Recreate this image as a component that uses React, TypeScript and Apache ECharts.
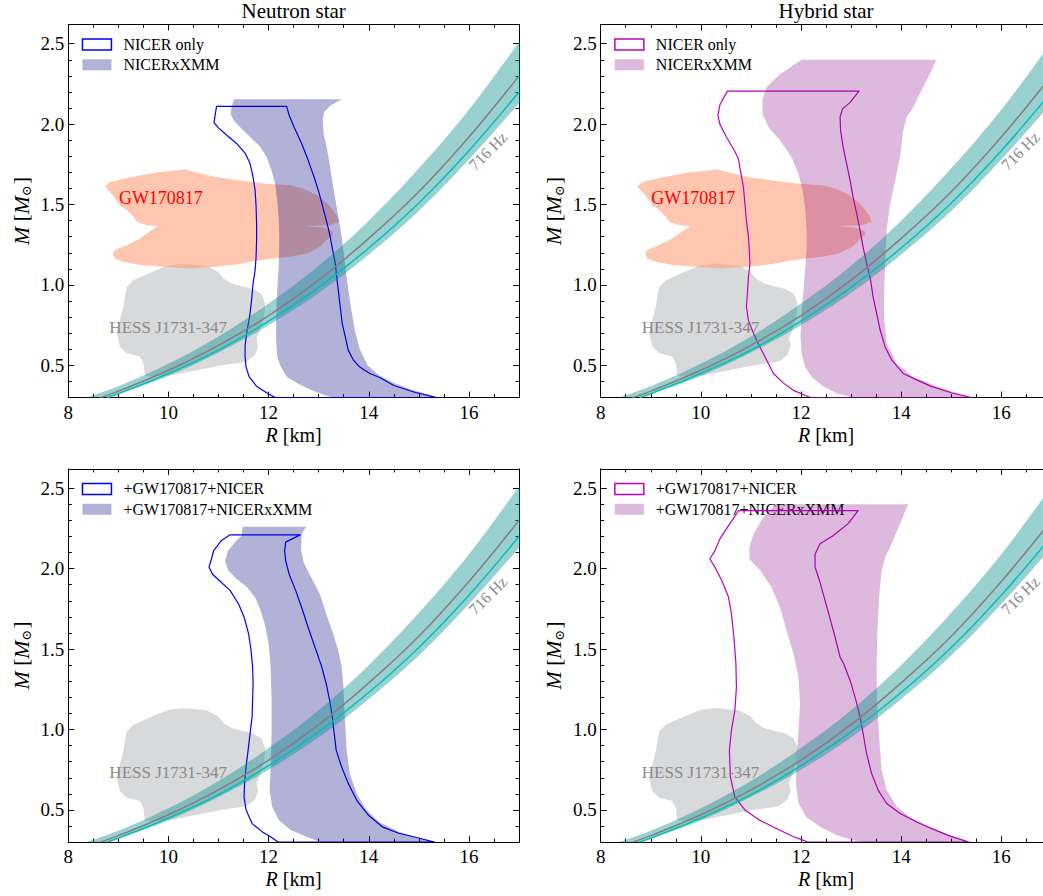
import React, { useEffect, useRef } from "react";
import * as echarts from "echarts";

const FONT = "Liberation Serif";

// ---------- axis ticks ----------
const X_MAJOR = [8, 10, 12, 14, 16];
const X_MINOR = [8.5, 9, 9.5, 10.5, 11, 11.5, 12.5, 13, 13.5, 14.5, 15, 15.5, 16.5];
const Y_MAJOR = [0.5, 1.0, 1.5, 2.0, 2.5];
const Y_MINOR = [0.4, 0.6, 0.7, 0.8, 0.9, 1.1, 1.2, 1.3, 1.4, 1.6, 1.7, 1.8, 1.9, 2.1, 2.2, 2.3, 2.4];

// ---------- observational regions (R [km], M [Msun]) ----------
const GW170817 = [
  [8.73, 1.61], [8.83, 1.64], [9.1, 1.66], [9.43, 1.68], [9.76, 1.70], [10.1, 1.71], [10.33, 1.72],
  [10.56, 1.70], [10.96, 1.67], [11.43, 1.65], [11.96, 1.63], [12.43, 1.62], [12.69, 1.60], [12.96, 1.56],
  [13.16, 1.51], [13.29, 1.465], [13.39, 1.415], [13.41, 1.393], [13.23, 1.372], [12.69, 1.366],
  [13.09, 1.358], [13.26, 1.337], [13.29, 1.316], [13.16, 1.279], [13.03, 1.237], [12.76, 1.196],
  [12.43, 1.175], [12.09, 1.165], [11.76, 1.151], [11.43, 1.13], [10.96, 1.113], [10.43, 1.103],
  [9.9, 1.113], [9.43, 1.124], [9.1, 1.144], [8.93, 1.165], [8.89, 1.196], [8.93, 1.217], [9.17, 1.248],
  [9.43, 1.289], [9.66, 1.341], [9.8, 1.366], [9.57, 1.372], [9.37, 1.393], [9.3, 1.424], [9.17, 1.465],
  [9.03, 1.496], [8.97, 1.527], [8.86, 1.569],
];
const HESS = [
  [10.03, 1.124], [10.3, 1.134], [10.76, 1.12], [10.99, 1.082], [11.1, 1.041], [11.26, 1.01], [11.5, 0.989],
  [11.69, 0.975], [11.86, 0.944], [11.93, 0.886], [11.91, 0.803], [11.83, 0.72], [11.76, 0.669],
  [11.79, 0.617], [11.73, 0.565], [11.56, 0.524], [11.36, 0.513], [11.1, 0.503], [10.76, 0.482],
  [10.43, 0.462], [10.1, 0.441], [9.76, 0.431], [9.53, 0.435], [9.5, 0.513], [9.43, 0.555], [9.17, 0.575],
  [9.03, 0.617], [8.97, 0.70], [9.03, 0.782], [9.1, 0.865], [9.13, 0.927], [9.17, 0.989], [9.3, 1.03],
  [9.53, 1.062], [9.76, 1.093],
];

// ---------- 716 Hz rotation limit ----------
const BAND_UPPER = [[8.2, 0.28], [8.37, 0.30], [9, 0.37], [10, 0.51], [11, 0.68], [12, 0.885], [13, 1.12], [14, 1.40], [15, 1.725], [16, 2.09], [17, 2.51], [17.4, 2.69]];
const BAND_LOWER = [[8.65, 0.28], [8.83, 0.30], [9, 0.32], [10, 0.435], [11, 0.58], [12, 0.75], [13, 0.95], [14, 1.19], [15, 1.46], [16, 1.78], [17, 2.13], [17.4, 2.28]];
const LINE_GRAY = [[8.64, 0.30], [9, 0.34], [10, 0.47], [11, 0.625], [12, 0.81], [13, 1.03], [14, 1.29], [15, 1.58], [16, 1.92], [17, 2.30]];
const LINE_CYAN = [[8.78, 0.30], [9, 0.325], [10, 0.45], [11, 0.595], [12, 0.775], [13, 0.985], [14, 1.23], [15, 1.51], [16, 1.835], [17, 2.20]];

// ---------- Neutron star, NICER only / NICERxXMM ----------
const NS_NICER = [
  [10.96, 2.11], [10.91, 2.01], [10.99, 1.98], [11.13, 1.94], [11.36, 1.88], [11.53, 1.82], [11.63, 1.755],
  [11.69, 1.67], [11.73, 1.59], [11.75, 1.49], [11.76, 1.38], [11.76, 1.28], [11.75, 1.175], [11.73, 1.09],
  [11.69, 1.01], [11.66, 0.905], [11.62, 0.80], [11.56, 0.70], [11.53, 0.62], [11.53, 0.555], [11.55, 0.49],
  [11.61, 0.43], [11.76, 0.37], [11.96, 0.33], [12.13, 0.30],
  [15.35, 0.30], [14.9, 0.335], [14.5, 0.375], [14.22, 0.425], [14.02, 0.45], [13.82, 0.49], [13.69, 0.535],
  [13.59, 0.595], [13.53, 0.68], [13.47, 0.76], [13.43, 0.865], [13.39, 0.97], [13.36, 1.05], [13.33, 1.135],
  [13.28, 1.215], [13.23, 1.30], [13.17, 1.38], [13.09, 1.475], [13.01, 1.57], [12.91, 1.67], [12.79, 1.775],
  [12.66, 1.88], [12.51, 1.98], [12.41, 2.055], [12.36, 2.11],
];
const NS_XMM = [
  [11.31, 2.155], [11.26, 2.105], [11.24, 2.065], [11.30, 2.025], [11.43, 1.98], [11.63, 1.92], [11.83, 1.86],
  [11.96, 1.795], [12.06, 1.71], [12.13, 1.63], [12.17, 1.53], [12.20, 1.42], [12.21, 1.32], [12.21, 1.22],
  [12.20, 1.11], [12.18, 1.01], [12.16, 0.885], [12.15, 0.76], [12.15, 0.66], [12.17, 0.555], [12.24, 0.495],
  [12.36, 0.43], [12.56, 0.39], [12.83, 0.35], [13.09, 0.317], [13.29, 0.30],
  [15.4, 0.30], [14.9, 0.345], [14.5, 0.39], [14.2, 0.44], [13.98, 0.50], [13.82, 0.60], [13.72, 0.72],
  [13.65, 0.85], [13.59, 0.97], [13.54, 1.09], [13.49, 1.22], [13.44, 1.34], [13.37, 1.465], [13.30, 1.59],
  [13.24, 1.71], [13.17, 1.84], [13.10, 1.94], [13.08, 2.025], [13.11, 2.075], [13.23, 2.115], [13.46, 2.155],
];

// ---------- Hybrid star, NICER only / NICERxXMM ----------
const HS_NICER = [
  [10.53, 2.205], [10.38, 2.12], [10.34, 2.055], [10.38, 2.00], [10.51, 1.92], [10.68, 1.83], [10.75, 1.785],
  [10.79, 1.71], [10.85, 1.61], [10.88, 1.505], [10.91, 1.40], [10.95, 1.30], [10.97, 1.195], [10.98, 1.135],
  [10.95, 1.05], [10.93, 0.95], [10.91, 0.865], [10.95, 0.78], [11.05, 0.70], [11.18, 0.615], [11.31, 0.535],
  [11.45, 0.45], [11.65, 0.39], [11.85, 0.345], [12.15, 0.305], [12.2, 0.30],
  [15.4, 0.30], [15.0, 0.33], [14.6, 0.37], [14.31, 0.41], [14.04, 0.45], [13.81, 0.535], [13.68, 0.615],
  [13.58, 0.72], [13.51, 0.825], [13.44, 0.925], [13.39, 1.03], [13.31, 1.135], [13.24, 1.235], [13.18, 1.34],
  [13.11, 1.445], [13.04, 1.545], [12.98, 1.65], [12.91, 1.755], [12.84, 1.86], [12.79, 1.96], [12.78, 2.045],
  [12.83, 2.095], [12.98, 2.135], [13.16, 2.205],
];
const HS_XMM = [
  [12.01, 2.40], [11.58, 2.31], [11.31, 2.23], [11.23, 2.15], [11.23, 2.065], [11.35, 1.98], [11.58, 1.90],
  [11.81, 1.795], [11.95, 1.69], [12.03, 1.59], [12.08, 1.485], [12.11, 1.34], [12.11, 1.215], [12.08, 1.09],
  [12.05, 0.97], [12.01, 0.825], [11.99, 0.68], [12.01, 0.575], [12.08, 0.49], [12.21, 0.43], [12.44, 0.37],
  [12.71, 0.327], [12.98, 0.306], [13.1, 0.30],
  [15.37, 0.30], [14.71, 0.37], [14.24, 0.43], [13.91, 0.51], [13.71, 0.64], [13.66, 0.80], [13.66, 0.93],
  [13.68, 1.13], [13.71, 1.34], [13.78, 1.505], [13.88, 1.65], [13.98, 1.80], [14.04, 1.96], [14.11, 2.045],
  [14.24, 2.105], [14.34, 2.17], [14.58, 2.315], [14.70, 2.40],
];

// ---------- Neutron star, +GW170817 ----------
const NS_GW_NICER = [
  [11.23, 2.21], [11.06, 2.175], [10.90, 2.11], [10.86, 2.06], [10.81, 2.01], [10.88, 1.965], [11.02, 1.925],
  [11.23, 1.865], [11.40, 1.78], [11.51, 1.70], [11.60, 1.595], [11.65, 1.49], [11.68, 1.39], [11.69, 1.285],
  [11.68, 1.18], [11.67, 1.08], [11.63, 0.975], [11.59, 0.87], [11.55, 0.77], [11.52, 0.665], [11.51, 0.58],
  [11.55, 0.50], [11.67, 0.415], [11.87, 0.365], [12.04, 0.333], [12.19, 0.30],
  [15.31, 0.30], [14.94, 0.33], [14.60, 0.355], [14.27, 0.395], [14.00, 0.465], [13.76, 0.56], [13.59, 0.665],
  [13.46, 0.765], [13.35, 0.87], [13.31, 0.975], [13.27, 1.08], [13.22, 1.18], [13.15, 1.285], [13.06, 1.39],
  [12.95, 1.49], [12.81, 1.615], [12.68, 1.74], [12.54, 1.865], [12.41, 1.965], [12.34, 2.05], [12.32, 2.11],
  [12.34, 2.165], [12.63, 2.21],
];
const NS_GW_XMM = [
  [11.48, 2.26], [11.46, 2.205], [11.33, 2.165], [11.19, 2.11], [11.13, 2.05], [11.19, 1.99], [11.36, 1.935],
  [11.57, 1.885], [11.73, 1.82], [11.84, 1.74], [11.94, 1.635], [12.00, 1.535], [12.04, 1.39], [12.06, 1.18],
  [12.06, 0.975], [12.04, 0.765], [12.02, 0.62], [12.07, 0.52], [12.21, 0.435], [12.44, 0.375], [12.75, 0.333],
  [13.05, 0.30],
  [15.35, 0.30], [15.01, 0.323], [14.60, 0.365], [14.20, 0.425], [13.93, 0.51], [13.76, 0.60], [13.62, 0.725],
  [13.56, 0.87], [13.52, 1.08], [13.49, 1.285], [13.46, 1.39], [13.39, 1.49], [13.29, 1.595], [13.15, 1.72],
  [13.02, 1.845], [12.85, 1.945], [12.71, 2.03], [12.65, 2.11], [12.66, 2.215], [12.75, 2.26],
];

// ---------- Hybrid star, +GW170817 ----------
const HS_GW_NICER = [
  [10.75, 2.36], [10.58, 2.28], [10.38, 2.185], [10.28, 2.11], [10.18, 2.06], [10.28, 2.01], [10.42, 1.925],
  [10.55, 1.825], [10.61, 1.72], [10.66, 1.575], [10.70, 1.41], [10.71, 1.265], [10.68, 1.12], [10.61, 0.995],
  [10.57, 0.87], [10.59, 0.705], [10.68, 0.58], [10.88, 0.50], [11.18, 0.435], [11.51, 0.385], [11.85, 0.333],
  [12.08, 0.308], [12.12, 0.30],
  [15.35, 0.30], [14.95, 0.34], [14.6, 0.385], [14.31, 0.425], [13.98, 0.478], [13.71, 0.54], [13.54, 0.623],
  [13.41, 0.726], [13.31, 0.85], [13.24, 0.975], [13.18, 1.08], [13.08, 1.20], [12.98, 1.305], [12.85, 1.41],
  [12.78, 1.45], [12.68, 1.575], [12.57, 1.70], [12.46, 1.825], [12.37, 1.925], [12.28, 2.01], [12.28, 2.09],
  [12.38, 2.155], [12.64, 2.205], [12.94, 2.28], [13.14, 2.36],
];
const HS_GW_XMM = [
  [11.48, 2.40], [11.25, 2.32], [11.05, 2.215], [10.97, 2.135], [10.97, 2.06], [11.18, 1.99], [11.41, 1.885],
  [11.58, 1.76], [11.71, 1.615], [11.85, 1.47], [11.95, 1.325], [11.98, 1.16], [11.95, 0.995], [11.91, 0.83],
  [11.90, 0.665], [11.95, 0.54], [12.11, 0.455], [12.38, 0.395], [12.71, 0.343], [13.04, 0.312], [13.24, 0.30],
  [15.4, 0.30], [15.0, 0.34], [14.6, 0.39], [14.18, 0.455], [13.91, 0.52], [13.71, 0.625], [13.61, 0.745],
  [13.56, 0.955], [13.52, 1.16], [13.51, 1.365], [13.52, 1.575], [13.56, 1.825], [13.61, 1.99], [13.68, 2.07],
  [13.81, 2.155], [13.98, 2.28], [14.14, 2.40],
];

// ---------- labels ----------
const TITLES = ["Neutron star", "Hybrid star"];
const LEGEND_TOP = ["NICER only", "NICERxXMM"];
const LEGEND_BOTTOM = ["+GW170817+NICER", "+GW170817+NICERxXMM"];
const GW_LABEL_POS = [9.01, 1.538];
const HESS_LABEL_POS = [8.82, 0.735];
const HZ_LABEL_POS = [16.38, 1.833];

// ---------- colours ----------
const BLUE = "#0000ff";
const NS_FILL = "rgba(0,0,128,0.30)";
const MAG = "#bf00bf";
const HS_FILL = "rgba(128,0,128,0.27)";
const GW_FILL = "rgba(255,160,122,0.6)";
const HESS_FILL = "rgba(125,128,133,0.30)";
const BAND_FILL = "rgba(0,139,139,0.40)";
const GRAY_LINE = "#808080";
const CYAN_LINE = "#00bfbf";

const GRID_W = 450.7;
const GRID_H = 373.2;
const PANELS = [
  { left: 68.3, top: 24.4 },
  { left: 600.7, top: 24.4 },
  { left: 68.3, top: 468.9 },
  { left: 600.7, top: 468.9 },
];

function buildOption() {
  const grids = PANELS.map((p) => ({ left: p.left, top: p.top, width: GRID_W, height: GRID_H, containLabel: false, outerBoundsMode: "none" }));
  const xAxes: any[] = [];
  const yAxes: any[] = [];
  const lineStyle = { color: "#000", width: 1 };
  const tok = { fontFamily: FONT, fontSize: 19, color: "#000" };
  const xNameRich = {
    i: { fontFamily: FONT, fontSize: 20, fontStyle: "italic", color: "#000", lineHeight: 22 },
    r: { fontFamily: FONT, fontSize: 20, color: "#000", lineHeight: 22 },
  };
  const yNameRich = {
    i: { fontFamily: FONT, fontSize: 22, fontStyle: "italic", color: "#000", lineHeight: 24 },
    r: { fontFamily: FONT, fontSize: 21, color: "#000", lineHeight: 24 },
    s: { fontFamily: "DejaVu Serif", fontSize: 13, color: "#000", lineHeight: 13, verticalAlign: "bottom", padding: [0, 1, 0, 0] },
  };

  PANELS.forEach((_, g) => {
    const xb = { gridIndex: g, type: "value", min: 8, max: 17, splitLine: { show: false }, axisPointer: { show: false } };
    xAxes.push({
      ...xb, position: "bottom",
      axisLine: { show: true, onZero: false, lineStyle },
      axisTick: { show: true, inside: true, length: 6, customValues: X_MAJOR, lineStyle },
      axisLabel: { show: true, customValues: X_MAJOR, margin: 5, fontFamily: FONT, fontSize: 19, color: "#000", formatter: (v: number) => `{t|${v}}`, rich: { t: tok } },
      name: "{i|R}{r| [km]}", nameLocation: "middle", nameGap: 26,
      nameTextStyle: { fontFamily: FONT, fontSize: 20, color: "#000", rich: xNameRich },
    });
    xAxes.push({ ...xb, position: "bottom", axisLine: { show: false, onZero: false }, axisTick: { show: true, inside: true, length: 3.5, customValues: X_MINOR, lineStyle }, axisLabel: { show: false } });
    xAxes.push({ ...xb, position: "top", axisLine: { show: true, onZero: false, lineStyle }, axisTick: { show: true, inside: true, length: 6, customValues: X_MAJOR, lineStyle }, axisLabel: { show: false } });
    xAxes.push({ ...xb, position: "top", axisLine: { show: false, onZero: false }, axisTick: { show: true, inside: true, length: 3.5, customValues: X_MINOR, lineStyle }, axisLabel: { show: false } });

    const yb = { gridIndex: g, type: "value", min: 0.3, max: 2.62, splitLine: { show: false }, axisPointer: { show: false } };
    yAxes.push({
      ...yb, position: "left",
      axisLine: { show: true, onZero: false, lineStyle },
      axisTick: { show: true, inside: true, length: 6, customValues: Y_MAJOR, lineStyle },
      axisLabel: { show: true, customValues: Y_MAJOR, margin: 4, fontFamily: FONT, fontSize: 19, color: "#000", formatter: (v: number) => `{t|${v.toFixed(1)}}`, rich: { t: tok } },
      name: "{i|M}{r| [}{i|M}{s|⊙}{r|]}", nameLocation: "middle", nameGap: 35, nameRotate: 90,
      nameTextStyle: { fontFamily: FONT, fontSize: 21, color: "#000", rich: yNameRich },
    });
    yAxes.push({ ...yb, position: "left", axisLine: { show: false, onZero: false }, axisTick: { show: true, inside: true, length: 3.5, customValues: Y_MINOR, lineStyle }, axisLabel: { show: false } });
    yAxes.push({ ...yb, position: "right", axisLine: { show: true, onZero: false, lineStyle }, axisTick: { show: true, inside: true, length: 6, customValues: Y_MAJOR, lineStyle }, axisLabel: { show: false } });
    yAxes.push({ ...yb, position: "right", axisLine: { show: false, onZero: false }, axisTick: { show: true, inside: true, length: 3.5, customValues: Y_MINOR, lineStyle }, axisLabel: { show: false } });
  });

  const polygon = (name: string | undefined, data: number[][], g: number, style: any, z: number) => ({
    type: "custom", name, coordinateSystem: "cartesian2d", xAxisIndex: g * 4, yAxisIndex: g * 4,
    data, clip: true, silent: true, z,
    encode: { x: 0, y: 1 },
    itemStyle: { color: style.fill && style.fill !== "none" ? style.fill : style.stroke },
    renderItem: (params: any, api: any) => {
      if (params.dataIndex !== 0) return null;
      const pts = data.map((p) => api.coord(p));
      return {
        type: "polygon",
        shape: { points: pts, smooth: style.smooth || 0 },
        style: { fill: style.fill || "none", stroke: style.stroke || "none", lineWidth: style.lineWidth || 0, lineJoin: "round" },
      };
    },
  });

  const curve = (data: number[][], g: number, color: string, z: number) => ({
    type: "line", xAxisIndex: g * 4, yAxisIndex: g * 4, data, smooth: 0.4, showSymbol: false, symbol: "none",
    silent: true, z, clip: true, lineStyle: { color, width: 1.5 },
  });

  const text = (g: number, pos: number[], str: string, color: string, size: number, rot: number, align: string) => ({
    type: "custom", coordinateSystem: "cartesian2d", xAxisIndex: g * 4, yAxisIndex: g * 4,
    data: [pos], silent: true, z: 20, clip: false,
    renderItem: (params: any, api: any) => {
      const p = api.coord([api.value(0), api.value(1)]);
      return {
        type: "text", x: p[0], y: p[1], rotation: (rot * Math.PI) / 180,
        style: { text: str, fill: color, fontSize: size, fontFamily: FONT, align, verticalAlign: "middle" },
      };
    },
  });

  const bandPoly = [...BAND_UPPER, ...BAND_LOWER.slice().reverse()];

  const panelData = [
    { nicer: NS_NICER, xmm: NS_XMM, line: BLUE, fill: NS_FILL, gw: true, names: LEGEND_TOP },
    { nicer: HS_NICER, xmm: HS_XMM, line: MAG, fill: HS_FILL, gw: true, names: LEGEND_TOP },
    { nicer: NS_GW_NICER, xmm: NS_GW_XMM, line: BLUE, fill: NS_FILL, gw: false, names: LEGEND_BOTTOM },
    { nicer: HS_GW_NICER, xmm: HS_GW_XMM, line: MAG, fill: HS_FILL, gw: false, names: LEGEND_BOTTOM },
  ];

  const series: any[] = [];
  panelData.forEach((pd, g) => {
    series.push(polygon(undefined, HESS, g, { fill: HESS_FILL }, 2));
    if (pd.gw) series.push(polygon(undefined, GW170817, g, { fill: GW_FILL }, 3));
    series.push(polygon(pd.names[0], pd.nicer, g, { fill: "none", stroke: pd.line, lineWidth: 1.2 }, 4));
    series.push(polygon(pd.names[1], pd.xmm, g, { fill: pd.fill }, 5));
    series.push(polygon(undefined, bandPoly, g, { fill: BAND_FILL, smooth: 0.35 }, 6));
    series.push(curve(LINE_GRAY, g, GRAY_LINE, 7));
    series.push(curve(LINE_CYAN, g, CYAN_LINE, 8));
    if (pd.gw) series.push(text(g, GW_LABEL_POS, "GW170817", "#ff0000", 18, 0, "left"));
    series.push(text(g, HESS_LABEL_POS, "HESS J1731-347", "#8a8a8a", 17, 0, "left"));
    series.push(text(g, HZ_LABEL_POS, "716 Hz", "#8a8a8a", 16, 45, "center"));
  });

  const legend = panelData.map((pd, g) => ({
    orient: "vertical", left: PANELS[g].left + 13.4, top: PANELS[g].top + 12, padding: 0,
    itemGap: 4.4, itemWidth: 29, itemHeight: 11, icon: "rect", selectedMode: false,
    textStyle: { fontFamily: FONT, fontSize: 16, color: "#000", padding: [0, 0, 0, 7] },
    data: [
      { name: pd.names[0], icon: "rect", itemStyle: { color: "rgba(0,0,0,0)", borderColor: pd.line, borderWidth: 1.5 } },
      { name: pd.names[1], icon: "rect", itemStyle: { color: pd.fill, borderColor: "rgba(0,0,0,0)", borderWidth: 0 } },
    ],
  }));

  const title = TITLES.map((t, i) => ({
    text: t, left: PANELS[i].left + GRID_W / 2, top: 0, padding: 0, textAlign: "center",
    textStyle: { fontFamily: FONT, fontSize: 21, fontWeight: "normal", color: "#000" },
  }));

  return {
    animation: false,
    backgroundColor: "#ffffff",
    textStyle: { fontFamily: FONT, color: "#000" },
    title,
    legend,
    grid: grids,
    xAxis: xAxes,
    yAxis: yAxes,
    series,
  };
}

export default function App() {
  const ref = useRef<HTMLDivElement>(null);
  useEffect(() => {
    document.body.style.margin = "0";
    if (!ref.current) return;
    const chart = echarts.init(ref.current, undefined, { renderer: "svg" });
    chart.setOption(buildOption() as any);
    return () => chart.dispose();
  }, []);
  return <div ref={ref} style={{ width: 1043, height: 896, overflow: "hidden" }} />;
}
